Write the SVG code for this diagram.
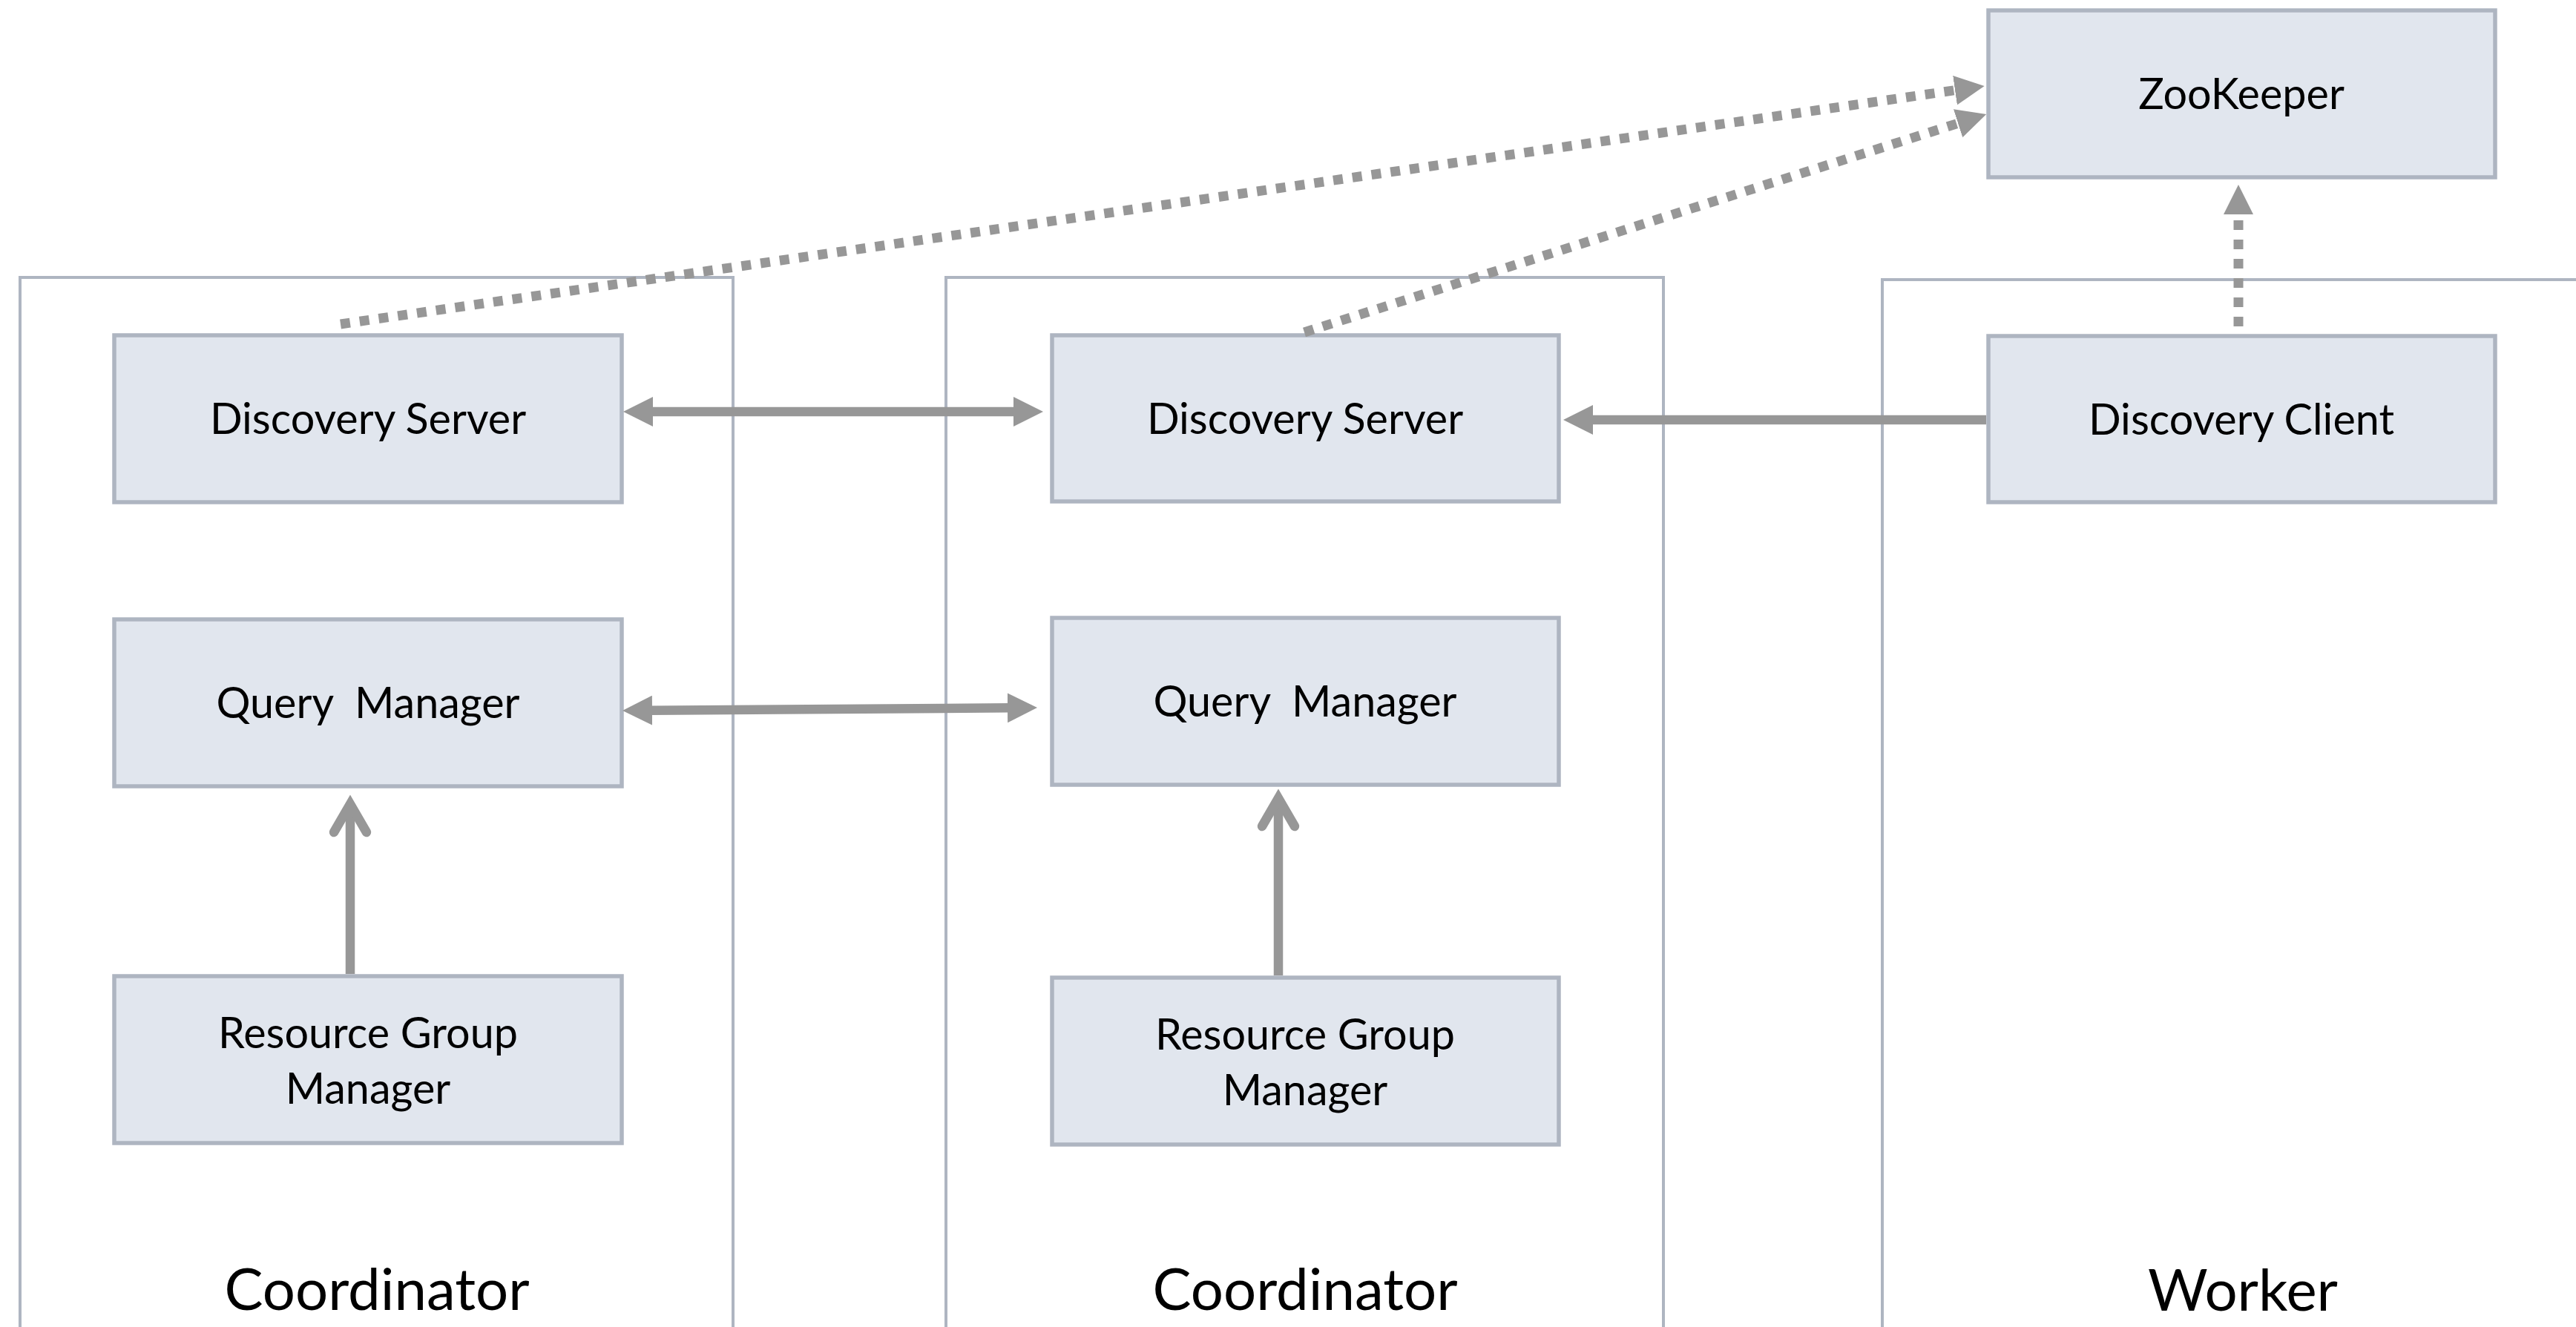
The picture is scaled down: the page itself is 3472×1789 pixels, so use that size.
<svg xmlns="http://www.w3.org/2000/svg" width="3472" height="1789" viewBox="0 0 3472 1789">
<style>
.container{fill:none;stroke:#AEB5C1;stroke-width:4}
.box{fill:#E1E6EE;stroke:#AEB5C1;stroke-width:5.5}
.t{font-family:Lato,"Liberation Sans",sans-serif;font-size:57.5px;fill:#000;text-anchor:middle}
.lbl{font-family:Lato,"Liberation Sans",sans-serif;font-size:78px;fill:#000;text-anchor:middle}
.solid{fill:none;stroke:#979797;stroke-width:12.5}
.dot{fill:none;stroke:#979797;stroke-width:13;stroke-dasharray:13 13}
</style>
<defs>
<marker id="tri" markerUnits="userSpaceOnUse" viewBox="0 0 40 40" refX="2" refY="20" markerWidth="40" markerHeight="40" orient="auto-start-reverse">
<path d="M0,0 L40,20 L0,40 Z" fill="#979797"/>
</marker>
<marker id="open" markerUnits="userSpaceOnUse" viewBox="-60 -40 80 80" refX="0" refY="0" markerWidth="80" markerHeight="80" orient="auto" style="overflow:visible">
<path d="M-38,-22 L0,0 L-38,22" fill="none" stroke="#979797" stroke-width="12.5" stroke-linecap="round" stroke-linejoin="miter"/>
</marker>
</defs>
<rect width="3472" height="1789" fill="#FFFFFF"/>
<g id="coordinator1">
<rect class="container" x="27" y="374" width="961" height="1600"/>
<text class="lbl" x="508" y="1766">Coordinator</text>
</g>
<g id="coordinator2">
<rect class="container" x="1275" y="374" width="967" height="1600"/>
<text class="lbl" x="1759" y="1766">Coordinator</text>
</g>
<g id="worker">
<rect class="container" x="2537" y="377" width="1100" height="1600"/>
<text class="lbl" x="3023" y="1767">Worker</text>
</g>
<g id="zookeeper">
<rect class="box" x="2680" y="14" width="683" height="225"/>
<text class="t" x="3021" y="147">ZooKeeper</text>
</g>
<g id="discovery-server-1">
<rect class="box" x="154" y="452" width="684" height="225"/>
<text class="t" x="496" y="585">Discovery Server</text>
</g>
<g id="query-manager-1">
<rect class="box" x="154" y="835" width="684" height="225"/>
<text class="t" x="496" y="968" xml:space="preserve">Query  Manager</text>
</g>
<g id="resource-group-manager-1">
<rect class="box" x="154" y="1316" width="684" height="225"/>
<text class="t" x="496" y="1413">Resource Group</text>
<text class="t" x="496" y="1488">Manager</text>
</g>
<g id="discovery-server-2">
<rect class="box" x="1418" y="452" width="683" height="224"/>
<text class="t" x="1759" y="585">Discovery Server</text>
</g>
<g id="query-manager-2">
<rect class="box" x="1418" y="833" width="683" height="225"/>
<text class="t" x="1759" y="966" xml:space="preserve">Query  Manager</text>
</g>
<g id="resource-group-manager-2">
<rect class="box" x="1418" y="1318" width="683" height="225"/>
<text class="t" x="1759" y="1415">Resource Group</text>
<text class="t" x="1759" y="1490">Manager</text>
</g>
<g id="discovery-client">
<rect class="box" x="2680" y="453" width="683" height="224"/>
<text class="t" x="3021" y="586">Discovery Client</text>
</g>
<g id="connectors">
<path class="solid" d="M878,555 L1368,555" marker-start="url(#tri)" marker-end="url(#tri)"/>
<path class="solid" d="M2677,566 L2145,566" marker-end="url(#tri)"/>
<path class="solid" d="M877,957.7 L1360,954.3" marker-start="url(#tri)" marker-end="url(#tri)"/>
<path class="solid" d="M472,1313 L472,1084" marker-end="url(#open)"/>
<path class="solid" d="M1723,1315 L1723,1076" marker-end="url(#open)"/>
<path class="dot" d="M459,437 L2637,121.4" marker-end="url(#tri)"/>
<path class="dot" d="M1758,448 L2641,165.6" marker-end="url(#tri)"/>
<path class="dot" d="M3017,440 L3017,287" marker-end="url(#tri)"/>
</g>
</svg>
